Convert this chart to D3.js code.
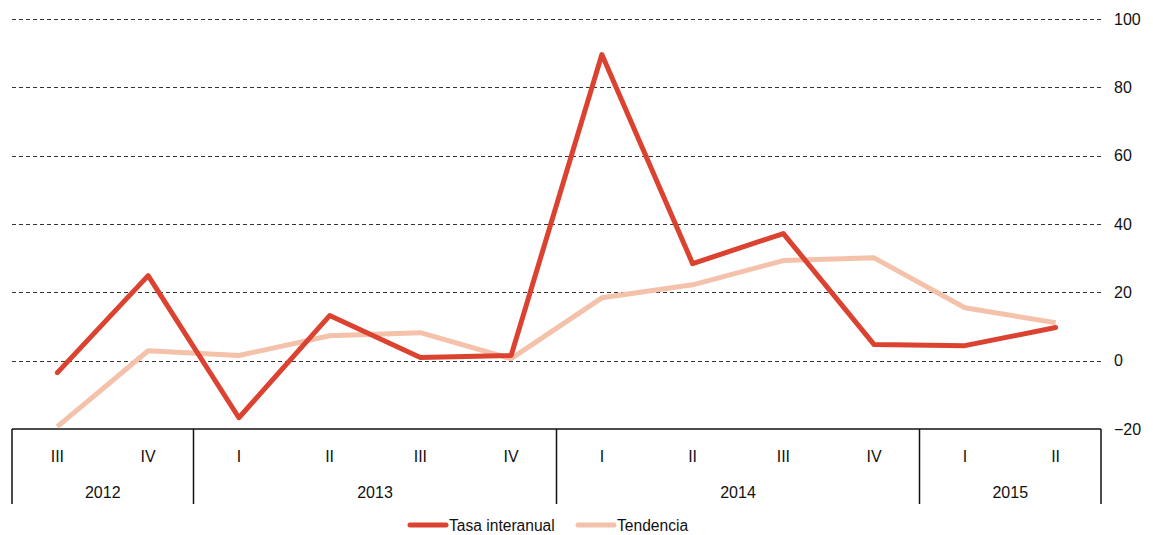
<!DOCTYPE html>
<html>
<head>
<meta charset="utf-8">
<script src="https://cdn.jsdelivr.net/npm/d3@7"></script>
<style>
  body { margin: 0; background: #fff; }
  text { font-family: "Liberation Sans", Arial, sans-serif; fill: #111; }
</style>
</head>
<body>
<div id="chart"></div>
<script>
var quarters = ["III", "IV", "I", "II", "III", "IV", "I", "II", "III", "IV", "I", "II"];
var years = [
  { label: "2012", from: 0, to: 2 },
  { label: "2013", from: 2, to: 6 },
  { label: "2014", from: 6, to: 10 },
  { label: "2015", from: 10, to: 12 }
];
var tasaInteranual = [-3.5, 24.9, -16.7, 13.2, 0.9, 1.5, 89.6, 28.4, 37.2, 4.7, 4.4, 9.7];
var tendencia = [-19.3, 2.9, 1.5, 7.3, 8.2, 0.6, 18.4, 22.2, 29.3, 30.1, 15.5, 11.1];
var yTicks = [-20, 0, 20, 40, 60, 80, 100];

var svgWidth = 1153;
var svgHeight = 535;
var plotLeft = 12, plotRight = 1101, plotTop = 19, plotBottom = 429;

var svg = d3.select("#chart")
  .append("svg")
  .attr("width", svgWidth)
  .attr("height", svgHeight);

var x = d3.scaleBand()
  .domain(d3.range(quarters.length))
  .range([plotLeft, plotRight]);

var y = d3.scaleLinear()
  .domain([-20, 100])
  .range([plotBottom, plotTop]);

// gridlines + right axis labels
var yAxis = d3.axisRight(y)
  .tickValues(yTicks)
  .tickSize(0)
  .tickPadding(13);

var yg = svg.append("g")
  .attr("transform", `translate(${plotRight}, 0)`)
  .call(yAxis);
yg.select(".domain").remove();
yg.selectAll("text")
  .style("font-size", "16px")
  .style("font-family", "Liberation Sans, Arial, sans-serif")
  .attr("fill", "#111");

svg.append("g")
  .selectAll("line")
  .data(yTicks.filter(d => d > -20))
  .enter()
  .append("line")
  .attr("x1", plotLeft)
  .attr("x2", plotRight)
  .attr("y1", d => Math.round(y(d)) + 0.5)
  .attr("y2", d => Math.round(y(d)) + 0.5)
  .attr("stroke", "#333")
  .attr("stroke-width", 1)
  .attr("stroke-dasharray", "4,3");

// category box
var boxBottom = 504;
var box = svg.append("g")
  .attr("stroke", "#111")
  .attr("stroke-width", 1.5);
box.append("line")
  .attr("x1", plotLeft).attr("x2", plotRight)
  .attr("y1", y(-20)).attr("y2", y(-20));
var edges = [0].concat(years.map(d => d.to));
box.selectAll(".sep")
  .data(edges)
  .enter()
  .append("line")
  .attr("x1", d => d === quarters.length ? plotRight : x(d))
  .attr("x2", d => d === quarters.length ? plotRight : x(d))
  .attr("y1", y(-20))
  .attr("y2", boxBottom);

svg.append("g")
  .selectAll("text")
  .data(quarters)
  .enter()
  .append("text")
  .attr("x", (d, i) => x(i) + x.bandwidth() / 2)
  .attr("y", 462)
  .attr("text-anchor", "middle")
  .style("font-size", "16px")
  .text(d => d);

svg.append("g")
  .selectAll("text")
  .data(years)
  .enter()
  .append("text")
  .attr("x", d => (x(d.from) + (d.to === quarters.length ? plotRight : x(d.to))) / 2)
  .attr("y", 498)
  .attr("text-anchor", "middle")
  .style("font-size", "16px")
  .text(d => d.label);

// lines
var line = d3.line()
  .x((d, i) => x(i) + x.bandwidth() / 2)
  .y(d => y(d));

svg.append("path")
  .datum(tendencia)
  .attr("d", line)
  .attr("fill", "none")
  .attr("stroke", "#f4c1ab")
  .attr("stroke-width", 5)
  .attr("stroke-linejoin", "round");

svg.append("path")
  .datum(tasaInteranual)
  .attr("d", line)
  .attr("fill", "none")
  .attr("stroke", "#dc4230")
  .attr("stroke-width", 5)
  .attr("stroke-linejoin", "round")
  .attr("stroke-linecap", "round");

// legend
var legend = [
  { name: "Tasa interanual", color: "#dc4230", x: 408 },
  { name: "Tendencia", color: "#f4c1ab", x: 576 }
];
var lg = svg.append("g")
  .selectAll("g")
  .data(legend)
  .enter()
  .append("g")
  .attr("transform", d => `translate(${d.x}, 525)`);
lg.append("line")
  .attr("x1", 2).attr("x2", 38)
  .attr("stroke", d => d.color)
  .attr("stroke-width", 5)
  .attr("stroke-linecap", "round");
lg.append("text")
  .attr("x", 41)
  .attr("y", 6)
  .style("font-size", "15.6px")
  .text(d => d.name);
</script>
</body>
</html>
